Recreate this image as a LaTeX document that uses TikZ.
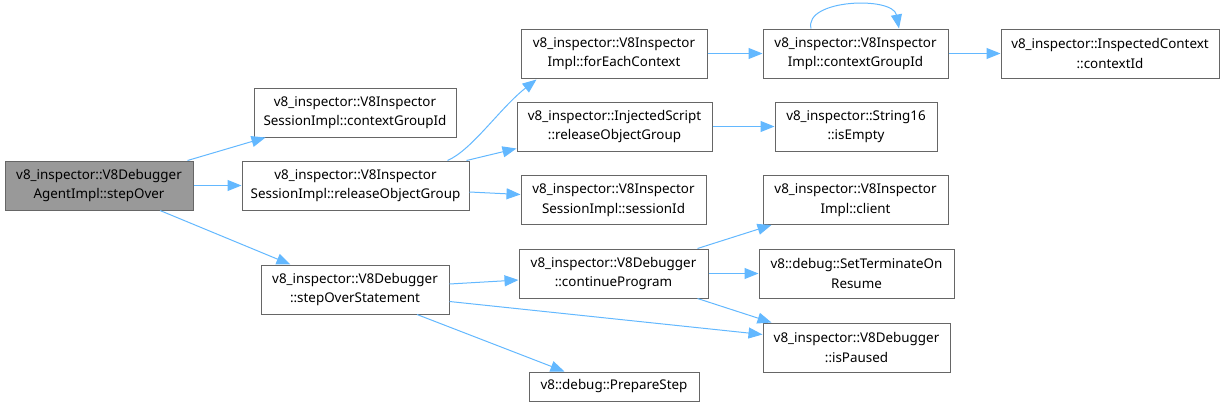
\documentclass[tikz,border=0pt]{standalone}
\usepackage{fontspec}
\setmainfont{Noto Sans}
\usetikzlibrary{arrows.meta,calc}
\definecolor{edgeblue}{HTML}{63B8FF}
\definecolor{bordergray}{HTML}{666666}
\definecolor{mainfill}{HTML}{999999}
\begin{document}
\begin{tikzpicture}[x=1pt,y=-1pt,
  box/.style={draw=bordergray, line width=1pt, fill=white, inner sep=0pt, align=center,
    font=\fontsize{13.4}{19.5}\selectfont, minimum height=49pt},
  mainbox/.style={box, fill=mainfill},
  edge/.style={draw=edgeblue, line width=1pt, -{Triangle[length=14pt,width=11pt]}}]
\useasboundingbox (0,0) rectangle (1224,407);
% nodes
\node[mainbox, minimum width=188pt] (main) at (99,185.5) {v8\_inspector::V8Debugger\\AgentImpl::stepOver};
\node[box, minimum width=202pt] (sctx) at (355,112.5) {v8\_inspector::V8Inspector\\SessionImpl::contextGroupId};
\node[box, minimum width=227pt] (srel) at (355.5,185.5) {v8\_inspector::V8Inspector\\SessionImpl::releaseObjectGroup};
\node[box, minimum width=188pt] (sos) at (355,289.5) {v8\_inspector::V8Debugger\\::stepOverStatement};
\node[box, minimum width=186pt] (fec) at (614,53.5) {v8\_inspector::V8Inspector\\Impl::forEachContext};
\node[box, minimum width=195pt] (inj) at (614.5,126.5) {v8\_inspector::InjectedScript\\::releaseObjectGroup};
\node[box, minimum width=185pt] (sid) at (613.5,200) {v8\_inspector::V8Inspector\\SessionImpl::sessionId};
\node[box, minimum width=189pt] (cont) at (613.5,273.5) {v8\_inspector::V8Debugger\\::continueProgram};
\node[box, minimum width=170pt, minimum height=29pt] (prep) at (614,386.5) {v8::debug::PrepareStep};
\node[box, minimum width=185pt] (cgid) at (855.5,53.5) {v8\_inspector::V8Inspector\\Impl::contextGroupId};
\node[box, minimum width=218pt] (ctxid) at (1110,53.5) {v8\_inspector::InspectedContext\\::contextId};
\node[box, minimum width=162pt] (empty) at (856,126.5) {v8\_inspector::String16\\::isEmpty};
\node[box, minimum width=185pt] (client) at (855.5,200) {v8\_inspector::V8Inspector\\Impl::client};
\node[box, minimum width=195pt] (sterm) at (856.5,273.5) {v8::debug::SetTerminateOn\\Resume};
\node[box, minimum width=187pt] (paused) at (856.5,347.5) {v8\_inspector::V8Debugger\\::isPaused};
% edges
\draw[edge] ($(main.north east)+(-6,0)$) -- ($(sctx.south west)+(12,0)$);
\draw[edge] (main.east) -- (srel.west);
\draw[edge] ($(main.south)+(61,0)$) -- ($(sos.north west)+(30,0)$);
\draw[edge] ($(srel.north east)+(-22,0)$) .. controls (472,150) and (500,108) .. ($(fec.south west)+(16,1)$);
\draw[edge] ($(srel.north east)+(-3,0)$) -- ($(inj.south west)+(0,-3)$);
\draw[edge] ($(srel.east)+(0,6.5)$) -- ($(sid.west)+(0,-5.5)$);
\draw[edge] (fec.east) -- (cgid.west);
\draw[edge] (cgid.east) -- (ctxid.west);
\draw[edge] ($(cgid.north)+(-44.5,0)$) .. controls (804,-1) and (893,-4) .. ($(cgid.north)+(43.5,0)$);
\draw[edge] (inj.east) -- (empty.west);
\draw[edge] ($(sos.east)+(0,-5.5)$) -- ($(cont.west)+(0,6.5)$);
\draw[edge] ($(sos.east)+(0,12)$) -- ($(paused.west)+(0,-13)$);
\draw[edge] ($(sos.south)+(62,0)$) -- ($(prep.north west)+(36,0)$);
\draw[edge] ($(cont.north east)+(-11,0)$) -- ($(client.south west)+(9,0)$);
\draw[edge] (cont.east) -- (sterm.west);
\draw[edge] ($(cont.south east)+(-11,0)$) -- ($(paused.north west)+(9,0)$);
\end{tikzpicture}
\end{document}
